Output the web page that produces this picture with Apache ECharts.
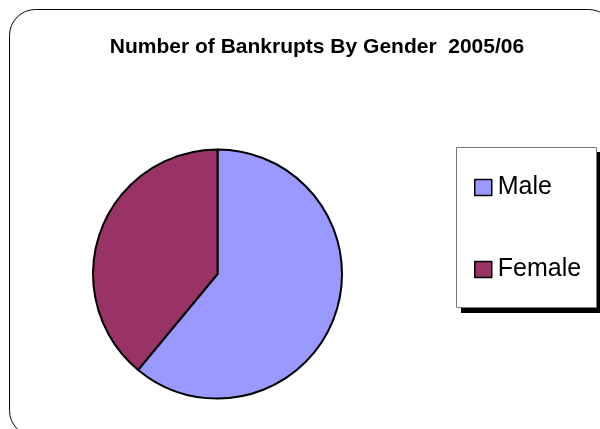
<!DOCTYPE html>
<html>
<head>
<meta charset="utf-8">
<script src="https://cdn.jsdelivr.net/npm/echarts@6/dist/echarts.min.js"></script>
<style>
  html, body { margin: 0; padding: 0; background: #fff; }
  #main { width: 600px; height: 429px; }
</style>
</head>
<body>
<div id="main"></div>
<script>
// data
var categories = ["Male", "Female"];
var shares = [61, 39];
var colors = ["#9999FF", "#993366"];

var chart = echarts.init(document.getElementById("main"));

var pieData = categories.map(function (name, i) {
  return { name: name, value: shares[i], itemStyle: { color: colors[i] } };
});

var option = {
  backgroundColor: "#fff",
  animation: false,
  title: {
    text: "Number of Bankrupts By Gender  2005/06",
    left: 312,
    textAlign: "center",
    top: 32,
    textStyle: {
      fontFamily: "Liberation Sans, Arial, sans-serif",
      fontSize: 21,
      fontWeight: "bold",
      color: "#000"
    }
  },
  graphic: [
    {
      // outer rounded frame
      type: "rect",
      shape: { x: 9.5, y: 9.5, width: 605, height: 427, r: 26 },
      style: { fill: "none", stroke: "#000", lineWidth: 1 },
      silent: true
    },
    {
      // legend box shadow
      type: "rect",
      shape: { x: 461, y: 152, width: 140, height: 161 },
      style: { fill: "#000" },
      silent: true,
      z: 0
    },
    {
      type: "rect",
      shape: { x: 456.5, y: 147.5, width: 140, height: 160 },
      style: { fill: "#fff", stroke: "#777", lineWidth: 1 },
      silent: true,
      z: 1
    }
  ],
  legend: {
    orient: "vertical",
    left: 474,
    top: 175,
    padding: 0,
    itemGap: 57,
    itemWidth: 17,
    itemHeight: 16,
    icon: "rect",
    itemStyle: { borderColor: "#000", borderWidth: 1.5 },
    textStyle: {
      fontFamily: "Liberation Sans, Arial, sans-serif",
      fontSize: 25,
      lineHeight: 24,
      color: "#000",
      padding: [0, 0, 0, 1]
    },
    z: 5,
    data: categories
  },
  series: [
    {
      type: "pie",
      center: [217.5, 274],
      radius: 124.5,
      startAngle: 90,
      clockwise: true,
      label: { show: false },
      labelLine: { show: false },
      itemStyle: { borderColor: "#000", borderWidth: 2 },
      emphasis: { disabled: true },
      data: pieData
    }
  ]
};

chart.setOption(option);
</script>
</body>
</html>
